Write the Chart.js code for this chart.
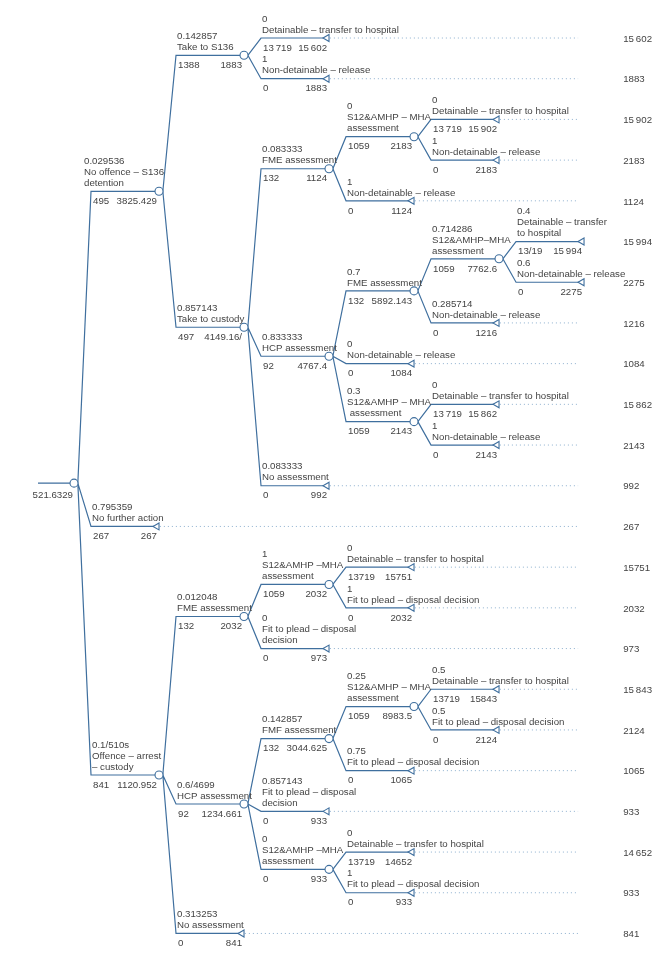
<!DOCTYPE html>
<html>
<head>
<meta charset="utf-8">
<script src="https://cdn.jsdelivr.net/npm/chart.js"></script>
<style>
  html, body { margin: 0; padding: 0; background: #fff; }
  #wrap { position: relative; width: 667px; height: 953px; }
</style>
</head>
<body>
<div id="wrap"><canvas id="treeChart"></canvas></div>
<script>
// decision tree, nodes in depth-first order (parent index, -1 = root)
var parentOf = [-1, 0, 1, 2, 2, 1, 5, 6, 7, 7, 6, 5, 11, 12, 13, 13, 12, 11, 11, 18, 18, 5,
                0, 0, 23, 24, 25, 25, 24, 23, 29, 30, 31, 31, 30, 29, 29, 36, 36, 23];

var probLabels = ["", "0.029536", "0.142857", "0", "1", "0.857143", "0.083333", "0", "0", "1",
  "1", "0.833333", "0.7", "0.714286", "0.4", "0.6", "0.285714", "0", "0.3", "0", "1", "0.083333",
  "0.795359", "0.1/510s", "0.012048", "1", "0", "1", "0", "0.6/4699", "0.142857", "0.25", "0.5",
  "0.5", "0.75", "0.857143", "0", "0", "1", "0.313253"];

var branchNames = ["",
  "No offence – S136\ndetention",
  "Take to S136",
  "Detainable – transfer to hospital",
  "Non-detainable – release",
  "Take to custody",
  "FME assessment",
  "S12&AMHP – MHA\nassessment",
  "Detainable – transfer to hospital",
  "Non-detainable – release",
  "Non-detainable – release",
  "HCP assessment",
  "FME assessment",
  "S12&AMHP–MHA\nassessment",
  "Detainable – transfer\nto hospital",
  "Non-detainable – release",
  "Non-detainable – release",
  "Non-detainable – release",
  "S12&AMHP – MHA\n assessment",
  "Detainable – transfer to hospital",
  "Non-detainable – release",
  "No assessment",
  "No further action",
  "Offence – arrest\n– custody",
  "FME assessment",
  "S12&AMHP –MHA\nassessment",
  "Detainable – transfer to hospital",
  "Fit to plead – disposal decision",
  "Fit to plead – disposal\ndecision",
  "HCP assessment",
  "FMF assessment",
  "S12&AMHP – MHA\nassessment",
  "Detainable – transfer to hospital",
  "Fit to plead – disposal decision",
  "Fit to plead – disposal decision",
  "Fit to plead – disposal\ndecision",
  "S12&AMHP –MHA\nassessment",
  "Detainable – transfer to hospital",
  "Fit to plead – disposal decision",
  "No assessment"];

var costLabels = ["", "495", "1388", "13\u2009719", "0", "497", "132", "1059", "13\u2009719", "0",
  "0", "92", "132", "1059", "13/19", "0", "0", "0", "1059", "13\u2009719", "0", "0",
  "267", "841", "132", "1059", "13719", "0", "0", "92", "132", "1059", "13719",
  "0", "0", "0", "0", "13719", "0", "0"];

var valueLabels = ["521.6329", "3825.429", "1883", "15\u2009602", "1883", "4149.16/", "1124", "2183",
  "15\u2009902", "2183", "1124", "4767.4", "5892.143", "7762.6", "15\u2009994", "2275", "1216", "1084",
  "2143", "15\u2009862", "2143", "992", "267", "1120.952", "2032", "2032", "15751", "2032", "973",
  "1234.661", "3044.625", "8983.5", "15843", "2124", "1065", "933", "933", "14652", "933", "841"];

// terminal payoffs, right-hand column (top to bottom)
var payoffLabels = ["15\u2009602", "1883", "15\u2009902", "2183", "1124", "15\u2009994", "2275", "1216",
  "1084", "15\u2009862", "2143", "992", "267", "15751", "2032", "973", "15\u2009843", "2124", "1065",
  "933", "14\u2009652", "933", "841"];

var lineColor = "#3f6f9e";
var dotColor = "#8eb0cf";
var textColor = "#444444";
var labelShift = { 1: -8 };

// ---- layout from tree structure ----
var n = parentOf.length;
var kids = [], depth = [], row = [], segStart = [], segEnd = [];
var i;
for (i = 0; i < n; i++) kids[i] = [];
for (i = 1; i < n; i++) kids[parentOf[i]].push(i);
depth[0] = 0;
for (i = 1; i < n; i++) depth[i] = depth[parentOf[i]] + 1;

var leafCount = 0;
var leaves = [];
function place(k) {
  if (!kids[k].length) { row[k] = leafCount++; leaves.push(k); return; }
  kids[k].forEach(place);
  var c = kids[k];
  row[k] = (row[c[0]] + row[c[c.length - 1]]) / 2;
  var allLeaves = c.every(function (j) { return !kids[j].length; });
  if (allLeaves) row[k] -= 0.075;
}
place(0);

for (i = 0; i < n; i++) {
  segStart[i] = i === 0 ? 0.376 : depth[i];
  segEnd[i] = depth[i] + 0.8;
}
var dotEnd = 6.73;
var payoffX = 7.26;

var branchPts = [], dotPts = [], nodePts = [], leafPts = [];
branchPts.push({x: segStart[0], y: row[0]}, {x: segEnd[0], y: row[0]}, {x: null, y: null});
for (i = 1; i < n; i++) {
  var p = parentOf[i];
  branchPts.push({x: segEnd[p] + 0.045, y: row[p]});
  branchPts.push({x: segStart[i], y: row[i]});
  branchPts.push({x: segEnd[i], y: row[i]});
  branchPts.push({x: null, y: null});
}
for (i = 0; i < n; i++) {
  if (kids[i].length) {
    nodePts.push({x: segEnd[i], y: row[i]});
  } else {
    leafPts.push({x: segEnd[i] - 0.0235, y: row[i]});
    if (segEnd[i] < dotEnd) {
      dotPts.push({x: segEnd[i] + 0.01, y: row[i]}, {x: dotEnd, y: row[i]}, {x: null, y: null});
    }
  }
}

var treeLabels = {
  id: "treeLabels",
  afterDatasetsDraw: function (chart) {
    var ctx = chart.ctx, sx = chart.scales.x, sy = chart.scales.y;
    ctx.save();
    ctx.font = '9.7px "Liberation Sans", Arial, sans-serif';
    ctx.fillStyle = textColor;
    ctx.textBaseline = "middle";
    for (var k = 0; k < n; k++) {
      var y = sy.getPixelForValue(row[k]);
      var x0 = sx.getPixelForValue(segStart[k]);
      var x1 = sx.getPixelForValue(segEnd[k]);
      if (k === 0) {
        ctx.textAlign = "right";
        ctx.fillText(valueLabels[0], x1 - 1, y + 12);
        continue;
      }
      var lines = [probLabels[k]].concat(branchNames[k].split("\n"));
      var lx = x0 + 1 + (labelShift[k] || 0);
      ctx.textAlign = "left";
      for (var m = 0; m < lines.length; m++) {
        ctx.fillText(lines[m], lx, y - 8 - (lines.length - 1 - m) * 11);
      }
      ctx.fillText(costLabels[k], x0 + 2, y + 10);
      ctx.textAlign = "right";
      ctx.fillText(valueLabels[k], x1 - 2, y + 10);
    }
    ctx.textAlign = "left";
    var px = sx.getPixelForValue(payoffX);
    for (var q = 0; q < leaves.length; q++) {
      ctx.fillText(payoffLabels[q], px, sy.getPixelForValue(row[leaves[q]]) + 1);
    }
    ctx.restore();
  }
};

new Chart("treeChart", {
  type: "scatter",
  data: {
    datasets: [
      {
        data: nodePts,
        pointStyle: "circle",
        pointRadius: 4,
        pointBackgroundColor: "#fff",
        pointBorderColor: lineColor,
        pointBorderWidth: 1.1,
        order: 0
      },
      {
        data: leafPts,
        pointStyle: "triangle",
        pointRotation: -90,
        pointRadius: 4,
        pointBackgroundColor: "#fff",
        pointBorderColor: lineColor,
        pointBorderWidth: 1.1,
        order: 0
      },
      {
        data: branchPts,
        showLine: true,
        spanGaps: false,
        pointRadius: 0,
        borderColor: lineColor,
        borderWidth: 1.2,
        order: 1
      },
      {
        data: dotPts,
        showLine: true,
        spanGaps: false,
        pointRadius: 0,
        borderColor: dotColor,
        borderWidth: 1,
        borderDash: [1, 3],
        order: 2
      }
    ]
  },
  options: {
    animation: false,
    responsive: true,
    maintainAspectRatio: false,
    events: [],
    layout: { padding: 0, autoPadding: false },
    plugins: {
      legend: { display: false },
      tooltip: { enabled: false }
    },
    scales: {
      x: { type: "linear", display: false, min: -0.0706, max: 7.776 },
      y: { type: "linear", display: false, reverse: true, min: -0.934, max: 22.48 }
    }
  },
  plugins: [treeLabels]
});
</script>
</body>
</html>
